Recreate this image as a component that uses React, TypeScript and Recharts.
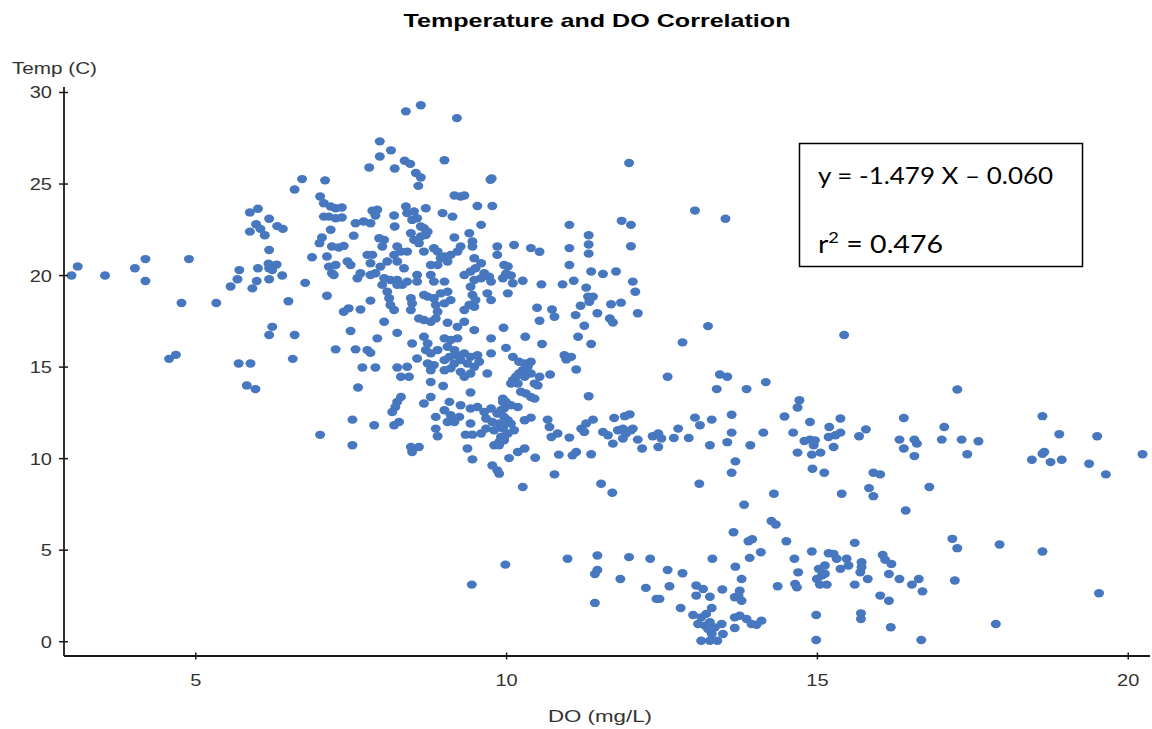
import React from 'react';
import { ScatterChart, Scatter, XAxis, YAxis } from 'recharts';

type Pt = [number, number]; // [DO (mg/L), Temp (C)]

const lowDoReadings: Pt[] = [
  [3.0, 20.0], [3.1, 20.5], [3.54, 20.0], [4.02, 20.4], [4.19, 20.9], [4.19, 19.7], [4.89, 20.9],
  [4.77, 18.5], [5.33, 18.5], [4.57, 15.45], [4.68, 15.67], [5.69, 15.2], [5.88, 15.2], [5.82, 14.0],
  [5.96, 13.8], [5.56, 19.4], [5.67, 19.8], [5.7, 20.3], [5.91, 19.3], [5.98, 19.7], [6.0, 20.4],
  [6.18, 19.8], [6.18, 20.4], [6.17, 20.65], [6.3, 20.6], [6.23, 20.3], [6.39, 20.0], [6.18, 21.4],
  [5.87, 23.45], [6.0, 23.65], [6.18, 23.1], [5.97, 22.8], [6.04, 22.55], [5.87, 22.4], [6.11, 22.2],
  [6.31, 22.7], [6.4, 22.55], [6.59, 24.7], [6.71, 25.27], [6.49, 18.6], [6.76, 19.6], [6.87, 21.0],
  [6.18, 16.75], [6.23, 17.2], [6.59, 16.75], [6.56, 15.45], [7.11, 18.9], [7.0, 11.3], [7.08, 25.2],
];

const warmestReadings: Pt[] = [
  [8.38, 28.97], [8.62, 29.3], [9.2, 28.6], [7.96, 27.33], [8.14, 26.84], [7.96, 26.5], [7.79, 25.9],
  [8.2, 25.85], [8.36, 26.27], [8.45, 26.1], [8.54, 25.6], [8.62, 25.36], [8.58, 24.9], [9.0, 26.3],
  [9.76, 25.3], [9.74, 25.23],
];

const warmCoreReadings: Pt[] = [
  [9.16, 24.37], [9.26, 24.32], [9.32, 24.37], [9.53, 23.8], [9.77, 23.8],
  [7.0, 24.32], [7.06, 23.95], [7.17, 23.77], [7.25, 23.68], [7.35, 23.72],
  [7.06, 23.22], [7.14, 23.22], [7.25, 23.13], [7.35, 23.17],
  [7.17, 22.5], [7.03, 22.08], [6.99, 21.77], [7.19, 21.59], [7.3, 21.53], [7.38, 21.62],
  [7.54, 22.18], [7.57, 22.86], [7.7, 22.95], [7.81, 22.86], [7.84, 23.54], [7.92, 23.6], [7.89, 23.28],
  [8.19, 23.28], [8.2, 22.68],
  [8.38, 23.77], [8.4, 23.41], [8.51, 23.5], [8.56, 23.13], [8.48, 23.04], [8.7, 23.68], [8.62, 22.68],
  [8.67, 22.59], [8.73, 22.4], [8.7, 22.22], [8.62, 22.13], [8.46, 22.31], [8.51, 21.95], [8.59, 21.77],
  [8.97, 23.41], [9.13, 23.22], [9.59, 22.77], [9.16, 22.08], [9.4, 22.31], [9.45, 21.86], [9.45, 21.59],
  [9.26, 21.59], [9.21, 21.31], [9.1, 21.13], [9.0, 21.04], [8.89, 21.31], [8.83, 21.49], [8.94, 20.95],
  [9.05, 20.77], [8.89, 20.58], [8.78, 20.58], [8.67, 21.31],
  [9.85, 21.59], [9.85, 21.13],
  [9.48, 20.95], [9.59, 20.67], [9.5, 20.4], [9.64, 20.13], [9.72, 19.94], [9.59, 19.85], [9.96, 20.58],
  [7.95, 22.04], [8.03, 21.95], [8.0, 21.59],
  [8.24, 21.59], [8.3, 21.31], [8.4, 21.31], [8.19, 21.13], [8.24, 20.77], [8.08, 20.77], [7.97, 20.49],
  [8.35, 20.4], [7.76, 21.13], [7.84, 21.13], [7.81, 20.67], [7.49, 20.58], [7.44, 20.77], [7.65, 20.13],
  [7.6, 19.85], [7.81, 20.03], [7.89, 20.13], [8.03, 19.85], [8.13, 19.76], [8.24, 19.76], [8.4, 19.67],
  [8.56, 20.03], [8.56, 19.67],
  [7.11, 21.04], [7.14, 20.49], [7.25, 20.58], [7.19, 20.13], [7.22, 20.03],
  [8.78, 20.03], [8.83, 19.67], [9.0, 19.67], [9.32, 20.03], [9.42, 20.22], [9.48, 19.76], [9.75, 19.67],
];

const midCoreReadings: Pt[] = [
  [7.38, 18.02], [7.46, 18.21], [7.65, 18.15], [7.81, 18.63], [8.03, 17.48], [8.24, 16.87], [7.49, 16.97],
  [7.92, 16.57], [7.25, 15.97], [7.57, 15.97], [7.76, 15.93], [7.81, 15.78], [7.68, 14.98], [7.89, 14.98],
  [8.24, 14.98], [8.3, 14.47], [8.4, 15.02], [8.48, 16.29], [8.56, 15.47],
  [8.0, 19.49], [8.08, 19.12], [8.11, 18.76], [8.13, 18.39], [8.19, 18.12], [8.24, 19.49], [8.32, 19.49],
  [8.46, 18.76], [8.48, 18.48], [8.46, 18.12],
  [8.59, 17.66], [8.67, 17.57], [8.78, 17.48], [8.86, 17.66], [8.89, 18.02], [8.86, 18.39], [8.83, 18.76],
  [8.73, 18.85], [8.67, 18.94], [8.94, 19.03], [9.05, 19.12], [9.1, 18.66], [9.0, 18.48],
  [9.42, 19.39], [9.45, 18.94], [9.5, 18.66], [9.4, 18.39], [9.48, 18.3], [9.32, 18.12],
  [9.69, 19.03], [9.75, 18.66],
  [9.05, 17.42], [9.21, 17.2], [9.32, 17.48], [9.48, 17.02], [9.75, 16.57],
  [8.67, 16.66], [8.73, 16.29], [8.7, 15.93], [8.78, 15.75], [8.89, 15.93],
  [9.0, 16.57], [9.1, 16.48], [9.21, 16.57], [9.05, 16.11], [9.16, 15.93], [9.08, 15.56], [9.0, 15.38],
  [9.21, 15.65], [9.32, 15.75], [9.42, 15.56], [9.53, 15.65], [9.56, 15.29], [9.48, 15.02], [9.37, 15.2],
  [9.26, 15.38], [9.16, 15.2], [9.1, 14.93], [9.26, 14.74], [9.42, 14.65], [9.32, 14.47], [9.0, 14.83],
  [8.83, 15.11], [8.78, 14.83], [8.73, 15.2],
  [9.69, 14.65], [9.75, 15.75], [8.43, 14.47],
];

const coolCoreReadings: Pt[] = [
  [7.61, 13.89], [7.52, 12.13], [7.52, 10.73], [7.87, 11.82],
  [8.3, 13.37], [8.24, 13.1], [8.21, 12.82], [8.16, 12.55], [8.27, 12.0], [8.19, 11.82],
  [8.46, 10.64], [8.48, 10.36], [8.59, 10.64],
  [8.78, 13.37], [8.67, 13.01], [8.78, 14.19], [8.98, 13.97],
  [8.86, 12.28], [8.86, 11.64], [8.89, 11.22],
  [9.0, 12.64], [9.08, 13.1], [9.1, 12.37], [9.05, 12.0], [9.16, 12.0], [9.24, 12.28], [9.26, 12.92],
  [9.42, 13.61], [9.42, 12.74], [9.42, 11.92],
  [9.34, 11.31], [9.45, 11.31], [9.59, 11.37], [9.37, 10.55], [9.45, 9.96],
  [9.53, 12.82], [9.64, 12.55], [9.75, 12.74], [9.85, 12.46], [9.94, 13.1], [9.96, 12.74], [9.67, 12.19],
  [9.77, 12.0], [9.88, 11.92], [9.67, 11.64], [9.8, 11.55], [9.94, 11.64],
  [9.8, 10.73], [9.88, 10.91], [9.96, 11.1], [9.77, 9.63], [9.85, 9.36],
];

const upperMidDoReadings: Pt[] = [
  [11.97, 26.15], [13.03, 23.55], [13.52, 23.1], [11.01, 22.77], [11.85, 22.99], [12.0, 22.77],
  [11.32, 22.2], [11.32, 21.7], [11.32, 21.2], [12.0, 21.6], [11.01, 21.5], [11.01, 20.58],
  [10.12, 21.67], [10.39, 21.5], [10.53, 21.3],
  [10.02, 20.5], [9.99, 20.1], [10.07, 20.0], [9.94, 19.85], [10.1, 19.58], [10.02, 19.03],
  [10.26, 19.72], [10.56, 19.52], [10.9, 19.52], [11.08, 19.72], [11.28, 19.34], [11.36, 20.22],
  [11.55, 20.09], [11.76, 20.22],
  [11.31, 18.85], [11.39, 18.85], [11.33, 18.57], [12.03, 19.67], [12.07, 19.12], [11.19, 18.35],
  [10.49, 18.24], [10.73, 18.15], [10.77, 17.75], [10.53, 17.53], [11.11, 17.84], [11.25, 17.26],
  [11.46, 17.94], [11.68, 18.43], [11.84, 18.52], [11.66, 17.66], [11.71, 17.44], [12.11, 17.94],
  [9.95, 17.15],
];

const lowerMidDoReadings: Pt[] = [
  [10.3, 16.66], [10.57, 16.26], [11.15, 16.66], [11.36, 16.26], [9.99, 16.05], [10.93, 15.65],
  [11.04, 15.56], [10.96, 15.42], [11.12, 14.87], [12.83, 16.35], [12.59, 14.47], [11.32, 13.41],
  [10.66, 12.13], [10.69, 11.73], [10.72, 11.18], [10.82, 11.37], [11.01, 11.15], [11.2, 11.64],
  [11.28, 11.92], [11.39, 12.13], [11.25, 11.46],
  [11.73, 12.22], [11.9, 12.32], [11.98, 12.42],
  [11.55, 11.46], [11.63, 11.28], [11.71, 10.82], [11.79, 11.55], [11.87, 11.64], [11.92, 11.37],
  [12.0, 11.55], [12.03, 11.64], [11.87, 11.1], [12.11, 11.04], [12.18, 10.55],
  [12.35, 11.22], [12.44, 11.37], [12.49, 11.1], [12.44, 10.64],
  [12.76, 11.64], [12.69, 11.13], [12.93, 11.13], [13.03, 12.24], [13.11, 11.82], [13.3, 12.13],
  [13.27, 10.73], [13.1, 8.63],
  [11.52, 8.63], [11.7, 8.14], [10.77, 9.14], [10.26, 8.45], [10.84, 10.22], [10.46, 10.05],
  [10.04, 10.03], [10.18, 10.36], [10.29, 10.55], [11.06, 10.18], [11.12, 10.36], [11.36, 10.24],
  [9.88, 9.18],
  [10.1, 15.56], [10.2, 15.29], [10.29, 15.2], [10.39, 15.29], [10.34, 15.02], [10.26, 14.83],
  [10.2, 14.65], [10.15, 14.47], [10.1, 14.29], [10.07, 14.1], [10.18, 14.1], [10.29, 14.47],
  [10.39, 14.65], [10.53, 14.47], [10.7, 14.6], [10.45, 14.1], [10.5, 14.0], [10.23, 13.65],
  [10.31, 13.56], [10.39, 13.37], [10.45, 13.28], [9.94, 13.28], [9.99, 13.1], [10.07, 12.92],
  [10.18, 12.82], [9.91, 12.64], [9.96, 12.28], [10.02, 12.1], [10.07, 11.91], [9.94, 11.73],
  [10.12, 11.55], [10.02, 11.37], [9.91, 11.18], [9.96, 11.0], [9.88, 10.73], [10.29, 12.1],
  [10.39, 12.24],
];

const highDoReadings: Pt[] = [
  [13.24, 17.24], [15.43, 16.75], [13.43, 14.6], [13.55, 14.47], [13.38, 13.8], [13.86, 13.8],
  [14.17, 14.18], [17.25, 13.78],
  [13.62, 12.4], [13.62, 11.42], [13.55, 10.9], [13.92, 10.73], [14.13, 11.42], [13.68, 9.85],
  [13.62, 9.23], [14.3, 8.08], [13.82, 7.48],
  [14.47, 12.3], [14.71, 13.19], [14.68, 12.79], [14.61, 11.42], [14.88, 12.0], [14.79, 10.96],
  [14.88, 11.04], [14.96, 11.0], [14.94, 10.73], [14.68, 10.33], [14.91, 10.22], [15.05, 10.33],
  [15.19, 11.73], [15.18, 11.18], [15.29, 11.28], [15.37, 11.42], [15.37, 12.19], [15.26, 10.64],
  [14.92, 9.45], [15.11, 9.23],
  [15.67, 11.22], [15.78, 11.6], [15.9, 9.23], [16.01, 9.14], [15.83, 8.39], [15.9, 7.95],
  [15.39, 8.08], [16.42, 7.17], [16.8, 8.45],
  [16.39, 12.22], [16.32, 11.04], [16.56, 11.04], [16.6, 10.82], [16.39, 10.55], [16.56, 10.14],
  [17.04, 11.73], [17.0, 11.04], [17.32, 11.04], [17.59, 10.95], [17.41, 10.24],
  [18.62, 12.32], [18.89, 11.33], [19.5, 11.22], [20.23, 10.24], [18.45, 9.94], [18.62, 10.27],
  [18.65, 10.36], [18.75, 9.81], [18.93, 9.94], [19.37, 9.72], [19.64, 9.14],
];

const coldReadings: Pt[] = [
  [14.26, 6.59], [14.33, 6.4], [13.65, 5.98], [13.89, 5.49], [13.95, 5.6], [14.5, 5.49], [14.09, 4.89],
  [13.91, 4.58], [14.63, 4.53], [13.31, 4.53], [13.68, 4.1], [14.69, 3.79], [13.78, 3.43], [14.36, 3.03],
  [14.64, 3.16], [14.67, 2.97],
  [9.44, 3.12], [9.98, 4.21], [10.98, 4.53], [11.46, 4.71], [11.46, 3.92], [11.42, 3.7], [11.42, 2.12],
  [11.97, 4.62], [12.31, 4.53], [11.83, 3.43], [12.59, 3.92], [12.83, 3.74], [12.24, 2.94], [12.62, 3.03],
  [12.41, 2.34], [12.46, 2.34], [12.8, 1.84],
  [13.05, 3.07], [13.16, 2.88], [13.05, 2.52], [13.27, 2.46], [13.47, 2.85], [13.3, 1.84],
  [13.0, 1.46], [13.13, 1.33], [13.21, 1.52], [13.08, 0.97], [13.19, 0.88], [13.27, 1.06], [13.35, 0.78],
  [13.46, 0.97], [13.48, 0.42], [13.3, 0.42], [13.13, 0.05], [13.27, 0.05], [13.39, 0.05], [13.24, 0.69],
  [13.67, 1.33], [13.75, 1.42], [13.86, 1.24], [13.94, 0.97], [14.02, 0.93], [14.1, 1.15], [13.67, 0.75],
  [13.67, 2.43], [13.73, 2.52], [13.78, 2.24], [13.75, 2.79],
  [14.91, 4.93], [15.6, 5.4], [15.18, 4.83], [15.26, 4.8], [15.31, 4.53], [15.47, 4.53], [15.5, 4.16],
  [15.37, 3.98], [15.02, 3.98], [15.12, 4.16], [14.99, 3.43], [15.07, 3.61], [15.12, 3.71], [15.04, 3.12],
  [15.15, 3.12], [15.6, 3.12], [15.71, 4.34], [15.71, 4.07], [15.69, 3.79], [15.81, 3.43], [16.05, 4.74],
  [16.09, 4.47], [16.19, 4.25], [16.15, 3.7], [16.32, 3.43], [16.52, 3.12], [16.63, 3.43], [16.69, 2.75],
  [16.01, 2.52], [16.15, 2.24], [17.17, 5.62], [17.25, 5.11], [17.93, 5.31], [18.62, 4.93], [17.21, 3.34],
  [19.53, 2.65], [14.98, 1.46], [15.7, 1.55], [15.7, 1.24], [16.18, 0.79], [17.87, 0.97], [14.98, 0.09],
  [16.67, 0.09],
];

const xTicks = [5, 10, 15, 20];
const yTicks = [0, 5, 10, 15, 20, 25, 30];
const chartTitle = 'Temperature and DO Correlation';
const xAxisLabel = 'DO (mg/L)';
const yAxisLabel = 'Temp (C)';
const fitEquation = 'y = -1.479 X \u2013 0.060';
const fitR2 = '0.476';

const allPoints = [
  ...lowDoReadings,
  ...warmestReadings,
  ...warmCoreReadings,
  ...midCoreReadings,
  ...coolCoreReadings,
  ...upperMidDoReadings,
  ...lowerMidDoReadings,
  ...highDoReadings,
  ...coldReadings,
].map(([x, y]) => ({ x, y }));

const FONT = '"Liberation Sans", Arial, sans-serif';
const BOX_FONT = "Lato, 'Open Sans', sans-serif";
const AXIS = '#1a1a1a';
const DOT = '#4677bf';

const XTick = (props: any) => {
  const { x, y, payload } = props;
  return (
    <g>
      <line x1={x} x2={x} y1={y - 3.5} y2={y + 3.5} stroke={AXIS} strokeWidth={1.5} />
      <text
        transform={`translate(${x},${y + 30}) scale(1.25,1)`}
        textAnchor="middle"
        fontSize={16}
        fontFamily={FONT}
        fill="#333"
      >
        {payload.value}
      </text>
    </g>
  );
};

const YTick = (props: any) => {
  const { x, y, payload } = props;
  return (
    <g>
      <line x1={x - 5} x2={x + 4} y1={y} y2={y} stroke={AXIS} strokeWidth={1.5} />
      <text
        transform={`translate(${x - 12},${y + 6}) scale(1.25,1)`}
        textAnchor="end"
        fontSize={16}
        fontFamily={FONT}
        fill="#333"
      >
        {payload.value}
      </text>
    </g>
  );
};

const Dot = (props: any) => {
  const { cx, cy } = props;
  if (cx == null || cy == null) return <g />;
  return <ellipse cx={cx} cy={cy} rx={5} ry={4.2} fill={DOT} />;
};

export default function App() {
  return (
    <div style={{ position: 'absolute', left: 0, top: 0, width: 1152, height: 729, background: '#fff' }}>
      <ScatterChart width={1152} height={729} margin={{ top: 87, right: 2, bottom: 0, left: 0 }}>
        <XAxis
          type="number"
          dataKey="x"
          domain={[2.88, 20.35]}
          allowDataOverflow
          ticks={xTicks}
          interval={0}
          height={73}
          axisLine={{ stroke: AXIS, strokeWidth: 1.8 }}
          tickLine={false}
          tickSize={0}
          tickMargin={0}
          tick={<XTick />}
        />
        <YAxis
          type="number"
          dataKey="y"
          domain={[-0.78, 30.3]}
          allowDataOverflow
          ticks={yTicks}
          interval={0}
          width={64}
          axisLine={{ stroke: AXIS, strokeWidth: 1.8 }}
          tickLine={false}
          tickSize={0}
          tickMargin={0}
          tick={<YTick />}
        />
        <Scatter data={allPoints} fill={DOT} shape={<Dot />} isAnimationActive={false} />
      </ScatterChart>
      <svg
        width={1152}
        height={729}
        style={{ position: 'absolute', left: 0, top: 0, pointerEvents: 'none' }}
      >
        <text
          x={597}
          y={27}
          textAnchor="middle"
          fontFamily={FONT}
          fontWeight="bold"
          fontSize={19}
          fill="#000"
          textLength={387}
          lengthAdjust="spacingAndGlyphs"
        >
          {chartTitle}
        </text>
        <text
          x={12}
          y={74}
          fontFamily={FONT}
          fontSize={16}
          fill="#333"
          textLength={85}
          lengthAdjust="spacingAndGlyphs"
        >
          {yAxisLabel}
        </text>
        <text
          x={548}
          y={722}
          fontFamily={FONT}
          fontSize={16}
          fill="#333"
          textLength={104}
          lengthAdjust="spacingAndGlyphs"
        >
          {xAxisLabel}
        </text>
        <rect x={799.5} y={143.5} width={283} height={123} fill="#fff" stroke="#000" strokeWidth={1.5} />
        <text
          x={818}
          y={184}
          fontFamily={BOX_FONT}
          fontSize={24}
          fill="#000"
          textLength={235}
          lengthAdjust="spacingAndGlyphs"
        >
          {fitEquation}
        </text>
        <text
          x={818}
          y={253}
          fontFamily={BOX_FONT}
          fontSize={25}
          fill="#000"
          textLength={125}
          lengthAdjust="spacingAndGlyphs"
        >
          <tspan>r</tspan>
          <tspan dy={-10} fontSize={16}>2</tspan>
          <tspan dy={10}>{` = ${fitR2}`}</tspan>
        </text>
      </svg>
    </div>
  );
}
